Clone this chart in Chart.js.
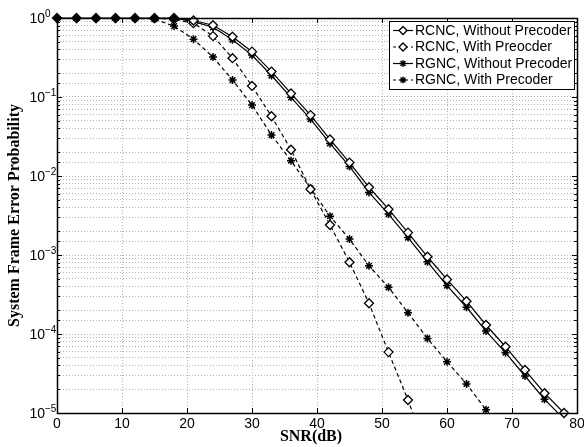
<!DOCTYPE html>
<html>
<head>
<meta charset="utf-8">
<script src="https://cdn.jsdelivr.net/npm/chart.js@4.4.0/dist/chart.umd.min.js"></script>
<style>
  html, body { margin: 0; padding: 0; background: #fff; }
  #wrap { width: 584px; height: 447px; position: relative; }
</style>
</head>
<body>
<div id="wrap"><canvas id="perChart"></canvas></div>
<script>
// SNR points (dB), one every 3 dB
const snrNoPre = [0,3,6,9,12,15,18,21,24,27,30,33,36,39,42,45,48,51,54,57,60,63,66,69,72,75,78];
const snrRcncPre = [0,3,6,9,12,15,18,21,24,27,30,33,36,39,42,45,48,51,54,57];
const snrRgncPre = [0,3,6,9,12,15,18,21,24,27,30,33,36,39,42,45,48,51,54,57,60,63,66];

// frame error probability per scheme
const rcncNoPre = [1,1,1,1,1,1,1, 0.93,0.81,0.58,0.375,0.21,0.111,0.059,0.029,0.0148,0.0072,
  0.0038,0.00192,0.00095,0.00049,0.00026,0.00013,6.9e-5,3.5e-5,1.78e-5,1.0e-5];
const rgncNoPre = [1,1,1,1,1,1,1, 0.90,0.765,0.53,0.339,0.187,0.099,0.0526,0.0258,0.0132,0.0062,
  0.0033,0.00166,0.00082,0.00041,0.000218,0.000109,5.8e-5,2.94e-5,1.49e-5,8.4e-6];
const rcncPre = [1,1,1,1,1,1, 0.96,0.86,0.59,0.31,0.138,0.057,0.0215,0.0068,0.0024,0.00081,
  0.000245,5.9e-5,1.46e-5,3.2e-6];
const rgncPre = [1,1,1,1,1, 0.97,0.79,0.54,0.32,0.164,0.079,0.033,0.0156,0.007,0.0031,0.00159,
  0.00073,0.00039,0.000186,8.8e-5,4.45e-5,2.33e-5,1.1e-5];

const seriesNames = ['RCNC, Without Precoder', 'RCNC, With Preocder', 'RGNC, Without Precoder', 'RGNC, With Precoder'];
const xTicks = [0,10,20,30,40,50,60,70,80];
const yExps = [0,-1,-2,-3,-4,-5];

const toPts = (xs, ys) => xs.map((x, i) => ({ x: x, y: ys[i] }));
const DASH = [4, 3];

const datasets = [
    {
        label: seriesNames[0],
        data: toPts(snrNoPre, rcncNoPre),
        borderColor: '#000', borderWidth: 1.2, borderDash: [],
        pointStyle: 'rectRot', pointRadius: 4.5, pointBorderWidth: 1.3, pointBorderColor: '#000',
        pointBackgroundColor: ctx => (ctx.raw && ctx.raw.y >= 1) ? '#000' : '#fff',
        clip: false
    },
    {
        label: seriesNames[1],
        data: toPts(snrRcncPre, rcncPre),
        borderColor: '#000', borderWidth: 1.2, borderDash: DASH,
        pointStyle: 'rectRot', pointRadius: 4.5, pointBorderWidth: 1.3, pointBorderColor: '#000',
        pointBackgroundColor: '#fff'
    },
    {
        label: seriesNames[2],
        data: toPts(snrNoPre, rgncNoPre),
        borderColor: '#000', borderWidth: 1.2, borderDash: [],
        pointStyle: 'star', pointRadius: 4, pointBorderWidth: 1.5, pointBorderColor: '#000',
        pointBackgroundColor: '#000'
    },
    {
        label: seriesNames[3],
        data: toPts(snrRgncPre, rgncPre),
        borderColor: '#000', borderWidth: 1.2, borderDash: DASH,
        pointStyle: 'star', pointRadius: 4, pointBorderWidth: 1.5, pointBorderColor: '#000',
        pointBackgroundColor: '#000'
    }
];

// small marker painter for the legend samples
function drawMarker(ctx, style, x, y, r, fill) {
    ctx.save();
    ctx.strokeStyle = '#000';
    ctx.fillStyle = fill;
    ctx.lineWidth = 1.3;
    ctx.beginPath();
    if (style === 'rectRot') {
        ctx.moveTo(x - r, y); ctx.lineTo(x, y - r); ctx.lineTo(x + r, y); ctx.lineTo(x, y + r);
        ctx.closePath();
        ctx.fill();
    } else {
        const d = r * Math.SQRT1_2;
        ctx.moveTo(x - r, y); ctx.lineTo(x + r, y);
        ctx.moveTo(x, y - r); ctx.lineTo(x, y + r);
        ctx.moveTo(x - d, y - d); ctx.lineTo(x + d, y + d);
        ctx.moveTo(x - d, y + d); ctx.lineTo(x + d, y - d);
    }
    ctx.stroke();
    ctx.restore();
}

// axes box, inward ticks, tick labels, titles and legend
const framePlugin = {
    id: 'frame',
    afterDraw(chart) {
        const ctx = chart.ctx;
        const a = chart.chartArea;
        const xs = chart.scales.x, ys = chart.scales.y;
        ctx.save();

        // inward ticks
        ctx.strokeStyle = '#000';
        ctx.lineWidth = 1;
        ctx.beginPath();
        xTicks.forEach(v => {
            const px = Math.round(xs.getPixelForValue(v)) + 0.5;
            ctx.moveTo(px, a.bottom); ctx.lineTo(px, a.bottom - 5);
            ctx.moveTo(px, a.top); ctx.lineTo(px, a.top + 5);
        });
        ys.ticks.forEach(t => {
            const py = Math.round(ys.getPixelForValue(t.value)) + 0.5;
            const len = t.major ? 5 : 3;
            ctx.moveTo(a.left, py); ctx.lineTo(a.left + len, py);
            ctx.moveTo(a.right, py); ctx.lineTo(a.right - len, py);
        });
        ctx.stroke();

        // box
        ctx.lineWidth = 1.5;
        ctx.strokeRect(Math.round(a.left) + 0.5, Math.round(a.top) + 0.5,
                       Math.round(a.right - a.left), Math.round(a.bottom - a.top));

        // x tick labels
        ctx.fillStyle = '#000';
        ctx.font = '14px "Liberation Sans", Arial, sans-serif';
        ctx.textAlign = 'center';
        ctx.textBaseline = 'middle';
        xTicks.forEach(v => ctx.fillText(String(v), xs.getPixelForValue(v), a.bottom + 11));

        // y tick labels: 10 with superscript exponent
        yExps.forEach(e => {
            const py = ys.getPixelForValue(Math.pow(10, e));
            ctx.font = '14px "Liberation Sans", Arial, sans-serif';
            ctx.textAlign = 'right';
            ctx.textBaseline = 'middle';
            ctx.fillText('10', a.left - 12, py + 1);
            ctx.font = '10px "Liberation Sans", Arial, sans-serif';
            ctx.textAlign = 'left';
            ctx.fillText(e === 0 ? '0' : '\u2212' + Math.abs(e), a.left - 12, py - 4);
        });

        // axis titles
        ctx.font = 'bold 16px "Liberation Serif", "Times New Roman", serif';
        ctx.textAlign = 'center';
        ctx.textBaseline = 'middle';
        ctx.fillText('SNR(dB)', 311, a.bottom + 24);
        ctx.save();
        ctx.translate(15, (a.top + a.bottom) / 2);
        ctx.rotate(-Math.PI / 2);
        ctx.fillText('System Frame Error Probability', 0, 0);
        ctx.restore();

        // legend
        const lx = 389, ly = 21, lw = 185, lh = 68;
        ctx.fillStyle = '#fff';
        ctx.fillRect(lx, ly, lw, lh);
        ctx.lineWidth = 1;
        ctx.strokeRect(lx + 0.5, ly + 0.5, lw, lh);
        chart.data.datasets.forEach((ds, i) => {
            const ry = ly + 9.5 + i * 16.5;
            ctx.save();
            ctx.strokeStyle = '#000';
            ctx.lineWidth = 1.2;
            ctx.setLineDash(ds.borderDash.length ? [3, 3] : []);
            ctx.beginPath();
            ctx.moveTo(lx + 4, ry); ctx.lineTo(lx + 24, ry);
            ctx.stroke();
            ctx.restore();
            drawMarker(ctx, ds.pointStyle, lx + 14, ry, ds.pointStyle === 'rectRot' ? 4 : 3.5, '#fff');
            ctx.fillStyle = '#000';
            ctx.font = '14px "Liberation Sans", Arial, sans-serif';
            ctx.textAlign = 'left';
            ctx.textBaseline = 'middle';
            ctx.fillText(ds.label, lx + 26, ry + 0.5);
        });

        ctx.restore();
    }
};

const gridDots = { color: '#b0b0b0', lineWidth: 1, drawTicks: false };

new Chart(document.getElementById('perChart').getContext('2d'), {
    type: 'line',
    data: { datasets: datasets },
    options: {
        responsive: true,
        maintainAspectRatio: false,
        animation: false,
        layout: { padding: { left: 57, right: 7, top: 18, bottom: 34 } },
        plugins: { legend: { display: false }, tooltip: { enabled: false } },
        elements: { line: { tension: 0 } },
        scales: {
            x: {
                type: 'linear',
                min: 0, max: 80,
                ticks: { display: false, stepSize: 10 },
                grid: gridDots,
                border: { display: false, dash: [1, 2] }
            },
            y: {
                type: 'logarithmic',
                min: 1e-5, max: 1,
                ticks: { display: false },
                grid: gridDots,
                border: { display: false, dash: [1, 2] }
            }
        }
    },
    plugins: [framePlugin]
});
</script>
</body>
</html>
